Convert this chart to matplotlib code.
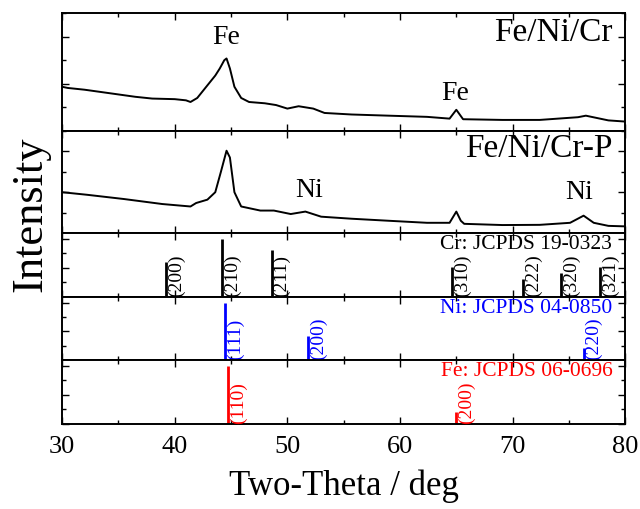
# Patrones XRD de Fe/Ni/Cr y Fe/Ni/Cr-P con las fichas JCPDS de Cr, Ni y Fe
# %%
import matplotlib.pyplot as plt
from matplotlib.ticker import MultipleLocator

# Datos -------------------------------------------------------------------------------------------------------
# Curva Fe/Ni/Cr (intensidad leida en % de la altura del panel)
tt_a = [30.0, 30.5, 31.0, 32.0, 33.5, 35.0, 36.5, 38.0, 40.0, 41.0, 41.4, 42.0, 42.9, 43.6, 44.0,
        44.4, 44.6, 44.9, 45.3, 45.9, 46.6, 48.0, 49.0, 50.0, 51.0, 52.3, 53.3, 55.7, 59.0, 62.4,
        64.4, 65.0, 65.6, 69.1, 72.4, 75.8, 76.5, 78.5, 80.0]
int_a = [37.5, 36.5, 36.0, 35.0, 33.0, 31.0, 29.0, 27.5, 27.0, 26.0, 24.6, 28.0, 38.7, 47.0, 53.0,
         60.0, 61.5, 53.0, 37.5, 28.0, 24.6, 23.5, 22.0, 19.0, 21.0, 19.0, 15.3, 14.0, 13.0, 12.0,
         10.5, 18.0, 10.0, 9.4, 9.4, 11.7, 13.0, 9.0, 8.0]

# Curva Fe/Ni/Cr-P
tt_b = [30.0, 32.2, 35.5, 38.9, 41.4, 41.9, 42.9, 43.6, 44.1, 44.6, 44.9, 45.3, 45.9, 47.6, 48.8,
        50.3, 51.6, 53.0, 55.7, 59.0, 62.4, 64.4, 65.0, 65.4, 65.7, 69.1, 72.4, 75.1, 76.3, 77.2,
        78.5, 80.0]
int_b = [40.0, 37.5, 33.3, 28.4, 26.0, 29.4, 32.7, 40.0, 60.0, 80.7, 74.0, 40.0, 26.0, 22.0, 22.0,
         18.6, 21.0, 16.0, 14.0, 12.0, 10.0, 10.0, 21.0, 12.0, 9.0, 7.8, 8.0, 10.0, 17.0, 10.0,
         7.0, 6.5]

# Fichas JCPDS
cr_pos = [39.2, 44.2, 48.6, 64.6, 70.9, 74.3, 77.8]
cr_int = [61, 100, 80, 51, 31, 42, 51]
cr_hkl = ['(200)', '(210)', '(211)', '(310)', '(222)', '(320)', '(321)']

ni_pos = [44.5, 51.8, 76.3]
ni_int = [100, 42, 21]
ni_hkl = ['(111)', '(200)', '(220)']

fe_pos = [44.7, 65.0]
fe_int = [100, 20]
fe_hkl = ['(110)', '(200)']

# Funciones ---------------------------------------------------------------------------------------------------
# %%
def formato(ax, ultimo):
    # Ejes sin separacion, marcas hacia adentro en los cuatro lados
    ax.set_xlim(30, 80)
    ax.xaxis.set_major_locator(MultipleLocator(10))
    ax.xaxis.set_minor_locator(MultipleLocator(5))
    ax.tick_params(which='both', direction='in', top=True, right=True, labelleft=False,
                   labelbottom=ultimo, labelsize=19, pad=8)
    ax.tick_params(which='major', length=5, width=1)
    ax.tick_params(which='minor', length=3, width=1)
    for s in ax.spines.values():
        s.set_linewidth(1.4)


def fichas(ax, pos, inten, hkl, color, nombre):
    ax.vlines(pos, 0, inten, color=color, lw=2)
    for x, h in zip(pos, hkl):
        ax.text(x + 0.15, 2, h, rotation=90, ha='left', va='bottom', color=color, fontsize=14)
    ax.text(0.977, 0.83, nombre, transform=ax.transAxes, ha='right', va='center', color=color,
            fontsize=15.5)
    ax.set_ylim(0, 110)
    ax.yaxis.set_major_locator(MultipleLocator(50))
    ax.yaxis.set_minor_locator(MultipleLocator(25))


def main():
    plt.rcParams['font.family'] = ['Liberation Serif', 'DejaVu Serif']
    fig = plt.figure(figsize=(6.4, 5.1), dpi=100)
    gs = fig.add_gridspec(5, 1, height_ratios=[118, 102, 64, 63, 64], hspace=0,
                          left=0.097, right=0.977, bottom=0.1667, top=0.9725)
    axs = [fig.add_subplot(gs[i]) for i in range(5)]

    # Panel 1: Fe/Ni/Cr
    ax = axs[0]
    ax.plot(tt_a, int_a, color='black', lw=1.4)
    ax.set_ylim(0, 100)
    ax.yaxis.set_major_locator(MultipleLocator(40))
    ax.yaxis.set_minor_locator(MultipleLocator(20))
    ax.text(0.977, 0.84, 'Fe/Ni/Cr', transform=ax.transAxes, ha='right', va='center', fontsize=24)
    ax.text(44.6, 80, 'Fe', ha='center', va='center', fontsize=20)
    ax.text(64.9, 33, 'Fe', ha='center', va='center', fontsize=20)

    # Panel 2: Fe/Ni/Cr-P
    ax = axs[1]
    ax.plot(tt_b, int_b, color='black', lw=1.4)
    ax.set_ylim(0, 100)
    ax.yaxis.set_major_locator(MultipleLocator(40))
    ax.yaxis.set_minor_locator(MultipleLocator(20))
    ax.text(0.977, 0.84, 'Fe/Ni/Cr-P', transform=ax.transAxes, ha='right', va='center', fontsize=24)
    ax.text(51.9, 43, 'Ni', ha='center', va='center', fontsize=20)
    ax.text(75.9, 41, 'Ni', ha='center', va='center', fontsize=20)

    # Paneles de fichas
    fichas(axs[2], cr_pos, cr_int, cr_hkl, 'black', 'Cr: JCPDS 19-0323')
    fichas(axs[3], ni_pos, ni_int, ni_hkl, 'blue', 'Ni: JCPDS 04-0850')
    fichas(axs[4], fe_pos, fe_int, fe_hkl, 'red', 'Fe: JCPDS 06-0696')

    for i, ax in enumerate(axs):
        formato(ax, i == 4)

    axs[4].set_xlabel('Two-Theta / deg', fontsize=25, labelpad=8)
    fig.text(0.047, 0.58, 'Intensity', rotation=90, ha='center', va='center', fontsize=32)

    fig.savefig('out.png', dpi=100)


# Main  -------------------------------------------------------------------------------------------------------
# %%
if __name__ == '__main__':
    main()
